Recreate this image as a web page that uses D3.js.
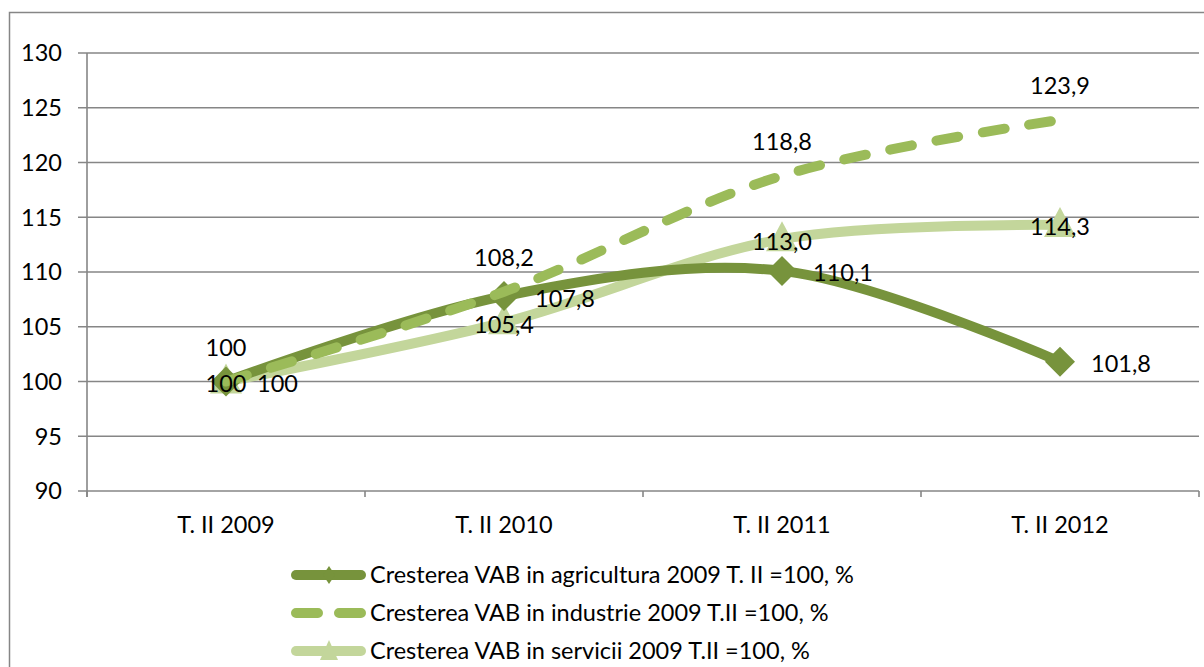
<!DOCTYPE html>
<html>
<head>
<meta charset="utf-8">
<script src="https://cdn.jsdelivr.net/npm/d3@7"></script>
<style>
  body { margin: 0; background: #fff; }
  text { font-family: Lato, "Open Sans", sans-serif; fill: #000; }
</style>
</head>
<body>
<svg id="chart"></svg>
<script>
// data
var categories = ['T. II 2009', 'T. II 2010', 'T. II 2011', 'T. II 2012'];
var agricultura = [100, 107.8, 110.1, 101.8];
var industrie = [100, 108.2, 118.8, 123.9];
var servicii = [100, 105.4, 113.0, 114.3];
var labelsAgri = ['100', '107,8', '110,1', '101,8'];
var labelsInd = ['100', '108,2', '118,8', '123,9'];
var labelsServ = ['100', '105,4', '113,0', '114,3'];
var seriesNames = [
  'Cresterea VAB in agricultura 2009 T. II =100, %',
  'Cresterea VAB in industrie 2009 T.II =100, %',
  'Cresterea VAB in servicii 2009 T.II =100, %'
];
var yTicks = [90, 95, 100, 105, 110, 115, 120, 125, 130];

var width = 1204, height = 667;
var plotL = 87, plotR = 1199, plotT = 53, plotB = 491;
var fontSize = '23.5px';

var svg = d3.select('#chart')
  .attr('width', width)
  .attr('height', height);

// outer frame
svg.append('rect')
  .attr('x', 9.5).attr('y', 12.5)
  .attr('width', 1210).attr('height', 700)
  .attr('fill', 'none')
  .attr('stroke', '#868686')
  .attr('stroke-width', 1.5);

var x = d3.scaleBand().domain(categories).range([plotL, plotR]);
var y = d3.scaleLinear().domain([90, 130]).range([plotB, plotT]);
var cx = d => x(d) + x.bandwidth() / 2;

// gridlines + y labels
svg.append('g')
  .selectAll('line')
  .data(yTicks)
  .enter()
  .append('line')
    .attr('x1', plotL - 9).attr('x2', plotR)
    .attr('y1', d => y(d)).attr('y2', d => y(d))
    .attr('stroke', '#868686')
    .attr('stroke-width', 1.6);

svg.append('g')
  .selectAll('text')
  .data(yTicks)
  .enter()
  .append('text')
    .attr('x', 62)
    .attr('y', d => y(d))
    .attr('dy', '0.36em')
    .attr('text-anchor', 'end')
    .style('font-size', fontSize)
    .text(d => d);

// y axis line
svg.append('line')
  .attr('x1', plotL).attr('x2', plotL)
  .attr('y1', plotT).attr('y2', plotB + 6)
  .attr('stroke', '#868686').attr('stroke-width', 1.6);

// x ticks
var xTickPos = categories.map(d => x(d)).concat([plotR]);
svg.append('g')
  .selectAll('line')
  .data(xTickPos)
  .enter()
  .append('line')
    .attr('x1', d => d).attr('x2', d => d)
    .attr('y1', plotB).attr('y2', plotB + 6)
    .attr('stroke', '#868686').attr('stroke-width', 1.6);

svg.append('g')
  .selectAll('text')
  .data(categories)
  .enter()
  .append('text')
    .attr('x', d => cx(d))
    .attr('y', 533)
    .attr('text-anchor', 'middle')
    .style('font-size', fontSize)
    .text(d => d);

var line = d3.line()
  .x(d => cx(d.cat))
  .y(d => y(d.v))
  .curve(d3.curveCatmullRom.alpha(0.5));

function pts(vals) { return vals.map((v, i) => ({cat: categories[i], v: v})); }

var diamond = (s) => `M0,${-s}L${s},0L0,${s}L${-s},0Z`;
var triangle = (w, h) => `M0,${-h * 0.6}L${w / 2},${h * 0.4}L${-w / 2},${h * 0.4}Z`;

// services
svg.append('path')
  .datum(pts(servicii))
  .attr('d', line)
  .attr('fill', 'none')
  .attr('stroke', '#c3d69b')
  .attr('stroke-width', 10)
  .attr('stroke-linecap', 'round');
svg.append('g')
  .selectAll('path')
  .data(pts(servicii))
  .enter()
  .append('path')
    .attr('transform', d => `translate(${cx(d.cat)},${y(d.v)})`)
    .attr('d', triangle(32, 30))
    .attr('fill', '#c3d69b');

// agriculture
svg.append('path')
  .datum(pts(agricultura))
  .attr('d', line)
  .attr('fill', 'none')
  .attr('stroke', '#77933c')
  .attr('stroke-width', 10)
  .attr('stroke-linecap', 'round');
svg.append('g')
  .selectAll('path')
  .data(pts(agricultura))
  .enter()
  .append('path')
    .attr('transform', d => `translate(${cx(d.cat)},${y(d.v)})`)
    .attr('d', diamond(15))
    .attr('fill', '#77933c');

// industry (dashed)
svg.append('path')
  .datum(pts(industrie))
  .attr('d', line)
  .attr('fill', 'none')
  .attr('stroke', '#9bbb59')
  .attr('stroke-width', 10)
  .attr('stroke-linecap', 'round')
  .attr('stroke-dasharray', '22,25');

// data labels
function addLabels(vals, labels, dx, dy, anchor) {
  svg.append('g')
    .selectAll('text')
    .data(vals)
    .enter()
    .append('text')
      .attr('x', (d, i) => cx(categories[i]) + dx)
      .attr('y', d => y(d) + dy)
      .attr('dy', '0.36em')
      .attr('text-anchor', anchor)
      .style('font-size', fontSize)
      .text((d, i) => labels[i]);
}
addLabels(industrie, labelsInd, 0, -34, 'middle');
addLabels(servicii, labelsServ, 0, 2, 'middle');
addLabels(agricultura, labelsAgri, 31, 2, 'start');

// legend
var legendY = [575, 613, 651];
var legend = svg.append('g');
var lx1 = 291, lx2 = 366, lmid = 329;

legend.append('line')
  .attr('x1', lx1 + 5).attr('x2', lx2 - 5)
  .attr('y1', legendY[0]).attr('y2', legendY[0])
  .attr('stroke', '#77933c').attr('stroke-width', 10).attr('stroke-linecap', 'round');
legend.append('path')
  .attr('transform', `translate(${lmid},${legendY[0]})`)
  .attr('d', 'M0,-9L6,0L0,9L-6,0Z')
  .attr('fill', '#77933c');

legend.append('line')
  .attr('x1', lx1 + 5).attr('x2', lx2 - 5)
  .attr('y1', legendY[1]).attr('y2', legendY[1])
  .attr('stroke', '#9bbb59').attr('stroke-width', 10).attr('stroke-linecap', 'round')
  .attr('stroke-dasharray', '22,21');

legend.append('line')
  .attr('x1', lx1 + 5).attr('x2', lx2 - 5)
  .attr('y1', legendY[2]).attr('y2', legendY[2])
  .attr('stroke', '#c3d69b').attr('stroke-width', 10).attr('stroke-linecap', 'round');
legend.append('path')
  .attr('transform', `translate(${lmid},${legendY[2]})`)
  .attr('d', 'M0,-11L9,9L-9,9Z')
  .attr('fill', '#c3d69b');

legend.selectAll('text.leg')
  .data(seriesNames)
  .enter()
  .append('text')
    .attr('class', 'leg')
    .attr('x', 370)
    .attr('y', (d, i) => legendY[i])
    .attr('dy', '0.36em')
    .style('font-size', fontSize)
    .text(d => d);
</script>
</body>
</html>
